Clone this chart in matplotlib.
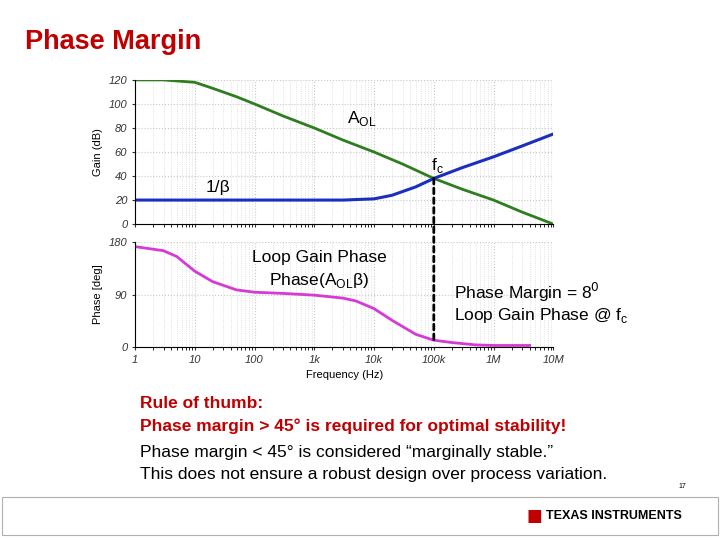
import matplotlib.pyplot as plt
from matplotlib.patches import ConnectionPatch, Rectangle
import numpy as np

plt.rcParams['font.family'] = 'Liberation Sans'

# Open loop gain A_OL (dB)
aol_f = [1, 3, 10, 20, 50, 100, 300, 1e3, 3e3, 1e4, 3e4, 1e5, 3e5, 1e6, 3e6, 1e7]
aol_db = [120, 120, 118, 113, 106, 100, 90, 80, 70, 60, 50, 38, 29, 20, 10, 0]

# Noise gain 1/beta (dB)
nb_f = [1, 100, 1e3, 3e3, 1e4, 2e4, 5e4, 1e5, 3e5, 1e6, 3e6, 1e7]
nb_db = [20, 20, 20, 20, 21, 24, 31, 38, 47, 56, 65, 75]

# Loop gain phase (deg)
ph_f = [1, 3, 5, 10, 20, 50, 100, 300, 1e3, 3e3, 5e3, 1e4, 2e4, 5e4, 1e5, 2e5, 5e5, 1e6, 4e6]
ph_deg = [172, 165, 155, 130, 112, 98, 94, 92, 89, 84, 79, 66, 46, 22, 12, 8, 4, 3, 3]

fc = 1e5
fc_gain = 38
fc_phase = 12

fig = plt.figure(figsize=(7.2, 5.4), dpi=100)
ax1 = fig.add_axes([0.1875, 0.585, 0.581, 0.267])
ax2 = fig.add_axes([0.1875, 0.357, 0.581, 0.195])

for ax in (ax1, ax2):
    ax.set_xscale('log')
    ax.set_xlim(1, 1e7)
    ax.grid(True, which='major', color='#c8c8c8', linestyle=':', linewidth=0.8)
    ax.grid(True, which='minor', color='#d8d8d8', linestyle=':', linewidth=0.6)
    for s in ('top', 'right'):
        ax.spines[s].set_visible(False)
    ax.tick_params(labelsize=8, colors='#333333', length=2)
    for lab in ax.get_yticklabels():
        lab.set_style('italic')

ax1.plot(aol_f, aol_db, color='#2e7d1e', linewidth=2)
ax1.plot(nb_f, nb_db, color='#1a2fbf', linewidth=2.2)
ax1.set_ylim(0, 120)
ax1.set_yticks(range(0, 121, 20))
ax1.set_yticklabels([str(v) for v in range(0, 121, 20)], style='italic')
ax1.tick_params(labelbottom=False)
ax1.set_ylabel('Gain (dB)', fontsize=8)
ax1.text(3.5e3, 84, r'A$_{\mathregular{OL}}$', fontsize=12.5)
ax1.text(9e4, 45, r'f$_{\mathregular{c}}$', fontsize=12.5)
ax1.text(15, 27, '1/β', fontsize=12.5)

ax2.plot(ph_f, ph_deg, color='#d63ad6', linewidth=2)
ax2.set_ylim(0, 180)
ax2.set_yticks([0, 90, 180])
ax2.set_yticklabels(['0', '90', '180'], style='italic')
ax2.set_xticks([1, 10, 100, 1e3, 1e4, 1e5, 1e6, 1e7])
ax2.set_xticklabels(['1', '10', '100', '1k', '10k', '100k', '1M', '10M'], style='italic')
ax2.set_xlabel('Frequency (Hz)', fontsize=8)
ax2.set_ylabel('Phase [deg]', fontsize=8)
ax2.text(1.2e3, 145, 'Loop Gain Phase', fontsize=12.5, ha='center')
ax2.text(1.2e3, 107, r'Phase(A$_{\mathregular{OL}}$β)', fontsize=12.5, ha='center')
ax2.text(2.2e5, 82, 'Phase Margin = 8$^0$', fontsize=12.5)
ax2.text(2.2e5, 47, 'Loop Gain Phase @ f$_{\mathregular{c}}$', fontsize=12.5)

con = ConnectionPatch(xyA=(fc, fc_gain), coordsA=ax1.transData,
                      xyB=(fc, fc_phase), coordsB=ax2.transData,
                      color='black', linestyle=(0, (2, 1.5)), linewidth=2)
fig.add_artist(con)

fig.text(25 / 720, 1 - 42 / 540, 'Phase Margin', color='#c00000', fontsize=19.5,
         fontweight='bold', va='center')
fig.text(140 / 720, 1 - 404 / 540, 'Rule of thumb:', color='#c00000', fontsize=12.5,
         fontweight='bold', va='center')
fig.text(140 / 720, 1 - 426 / 540, 'Phase margin > 45° is required for optimal stability!',
         color='#c00000', fontsize=12.5, fontweight='bold', va='center')
fig.text(140 / 720, 1 - 452 / 540, 'Phase margin < 45° is considered “marginally stable.”',
         fontsize=12.5, va='center')
fig.text(140 / 720, 1 - 474 / 540, 'This does not ensure a robust design over process variation.',
         fontsize=12.5, va='center')
fig.text(678 / 720, 1 - 486 / 540, '17', fontsize=5, va='center')

fig.add_artist(Rectangle((2 / 720, 5 / 540), 716 / 720, 38 / 540, transform=fig.transFigure,
                         fill=False, edgecolor='#b0b0b0', linewidth=0.8))
fig.text(526 / 720, 1 - 516 / 540, '■', color='#c00000', fontsize=12, va='center',
         fontfamily='DejaVu Sans')
fig.text(546 / 720, 1 - 516 / 540, 'TEXAS INSTRUMENTS', fontsize=9, fontweight='bold',
         va='center')

fig.savefig('out.png', dpi=100)
